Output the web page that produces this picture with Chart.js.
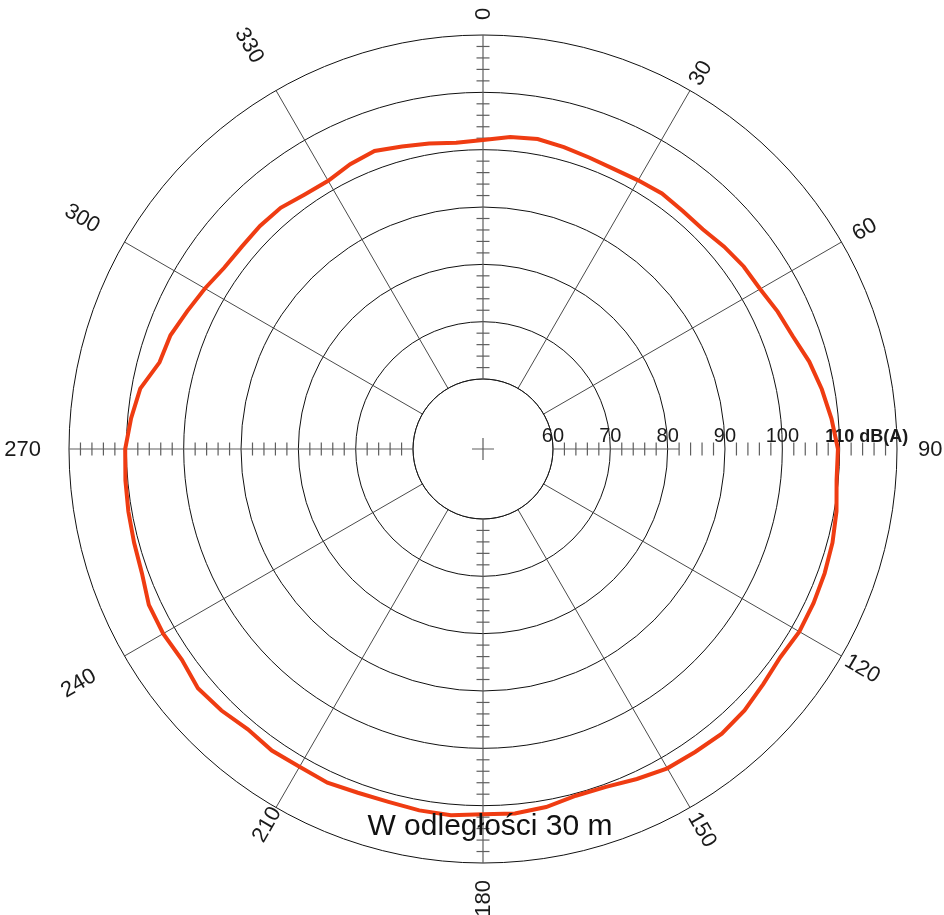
<!DOCTYPE html>
<html>
<head>
<meta charset="utf-8">
<script src="https://cdn.jsdelivr.net/npm/chart.js@4.4.1/dist/chart.umd.min.js"></script>
<style>
  html, body { margin: 0; padding: 0; background: #fff; }
  #wrap { width: 944px; height: 915px; }
</style>
</head>
<body>
<div id="wrap"><canvas id="polarChart" width="944" height="915"></canvas></div>
<script>
// kąty pomiaru (stopnie)
const angles = [
  0, 5, 10, 15, 20, 25, 30, 35, 40, 45, 50, 55,
  60, 65, 70, 75, 80, 85, 90, 95, 100, 105, 110, 115,
  120, 125, 130, 135, 140, 145, 150, 155, 160, 165, 170, 175,
  180, 185, 190, 195, 200, 205, 210, 215, 220, 225, 230, 235,
  240, 245, 250, 255, 260, 265, 270, 275, 280, 285, 290, 295,
  300, 305, 310, 315, 320, 325, 330, 335, 340, 345, 350, 355
];

// poziom hałasu dB(A)
const levels = [
  101.7, 102.4, 102.7, 102.3, 101.9, 101.7, 101.9, 102.2, 102.0, 102.0, 102.7, 103.3,
  103.6, 104.5, 105.3, 106.7, 107.8, 108.8, 109.7, 109.7, 110.4, 110.9, 111.2, 111.4,
  111.5, 111.1, 111.6, 112.3, 112.6, 112.3, 112.1, 111.3, 110.5, 110.4, 111.2, 111.6,
  111.5, 111.9, 111.8, 111.5, 111.6, 112.0, 111.8, 112.0, 111.6, 112.3, 112.7, 111.9,
  112.2, 112.1, 111.1, 110.8, 110.6, 110.4, 110.2, 109.4, 108.5, 106.2, 105.8, 104.7,
  103.8, 102.9, 102.7, 102.8, 102.7, 102.0, 101.8, 102.6, 103.1, 102.4, 101.9, 101.4
];

const ringValues = [60, 70, 80, 90, 100, 110, 120];
const dbTickLabels = ['60', '70', '80', '90', '100', '110'];
const angleTickLabels = ['0', '30', '60', '90', '120', '150', '180', '210', '240', '270', '300', '330'];
const unitLabel = 'dB(A)';
const chartTitle = 'W odległości 30 m';

const scaleMin = 47.8;
const scaleMax = 120;

// odstęp opisu kąta od zewnętrznego okręgu (px), jak w oryginale
const labelGap = [15, 8, 14, 21, 6, 7, 17, 1, 35, 28, 30, 34];

const polarDecor = {
  id: 'polarDecor',
  beforeDatasetsDraw(chart) {
    const { ctx } = chart;
    const s = chart.scales.r;
    const cx = s.xCenter, cy = s.yCenter;
    const rIn = s.getDistanceFromCenterForValue(60);
    const rOut = s.getDistanceFromCenterForValue(120);
    const step = angles.length / 4; // 0, 90, 180, 270

    ctx.save();
    // wnętrze najmniejszego okręgu bez linii kątowych
    ctx.beginPath();
    ctx.arc(cx, cy, rIn - 0.5, 0, Math.PI * 2);
    ctx.fillStyle = '#ffffff';
    ctx.fill();
    ctx.beginPath();
    ctx.arc(cx, cy, rIn, 0, Math.PI * 2);
    ctx.strokeStyle = '#1a1a1a';
    ctx.lineWidth = 1;
    ctx.stroke();

    // osie z podziałką co 2 dB
    ctx.strokeStyle = '#5e5e5e';
    ctx.lineWidth = 1.2;
    for (let k = 0; k < 4; k++) {
      const idx = k * step;
      const a0 = s.getPointPosition(idx, rIn);
      const lineEnd = k === 1 ? s.getDistanceFromCenterForValue(82) : rOut;
      const a1 = s.getPointPosition(idx, lineEnd);
      ctx.beginPath();
      ctx.moveTo(a0.x, a0.y);
      ctx.lineTo(a1.x, a1.y);
      ctx.stroke();
      const ang = a0.angle;
      const px = -Math.sin(ang), py = Math.cos(ang);
      for (let v = 62; v < 120; v += 2) {
        if (v % 10 === 0) continue;
        const p = s.getPointPosition(idx, s.getDistanceFromCenterForValue(v));
        ctx.beginPath();
        ctx.moveTo(p.x - px * 6.5, p.y - py * 6.5);
        ctx.lineTo(p.x + px * 6.5, p.y + py * 6.5);
        ctx.stroke();
      }
    }

    // krzyżyk w środku
    ctx.beginPath();
    ctx.moveTo(cx - 11, cy); ctx.lineTo(cx + 11, cy);
    ctx.moveTo(cx, cy - 11); ctx.lineTo(cx, cy + 11);
    ctx.stroke();

    // opisy dB wzdłuż osi 90
    ctx.fillStyle = '#1a1a1a';
    ctx.textBaseline = 'alphabetic';
    dbTickLabels.forEach((lbl, i) => {
      const p = s.getPointPosition(step, s.getDistanceFromCenterForValue(ringValues[i]));
      const last = i === dbTickLabels.length - 1;
      ctx.font = last ? "bold 18px 'Liberation Sans', Arial, sans-serif" : "20px 'Liberation Sans', Arial, sans-serif";
      ctx.textAlign = 'center';
      ctx.fillText(lbl, p.x, p.y - 7);
      if (last) {
        const w = ctx.measureText(lbl).width;
        ctx.textAlign = 'left';
        ctx.fillText(' ' + unitLabel, p.x + w / 2, p.y - 7);
      }
    });

    // opisy kątów, obrócone promieniście
    ctx.font = "22px 'Liberation Sans', Arial, sans-serif";
    ctx.textAlign = 'center';
    ctx.textBaseline = 'middle';
    angleTickLabels.forEach((lbl, i) => {
      const deg = Number(lbl);
      const w = ctx.measureText(lbl).width;
      const p = s.getPointPosition(angles.indexOf(deg), rOut + labelGap[i] + w / 2);
      let rot = ((deg - 90) % 180 + 180) % 180;
      if (rot >= 90) rot -= 180;
      ctx.save();
      ctx.translate(p.x, p.y);
      ctx.rotate(rot * Math.PI / 180);
      ctx.fillText(lbl, 0, 1);
      ctx.restore();
    });
    ctx.restore();
  },
  afterDatasetsDraw(chart) {
    const { ctx } = chart;
    const s = chart.scales.r;
    ctx.save();
    ctx.font = "30px 'Liberation Sans', Arial, sans-serif";
    ctx.fillStyle = '#111111';
    ctx.textAlign = 'center';
    ctx.textBaseline = 'alphabetic';
    ctx.fillText(chartTitle, s.xCenter + 7, s.yCenter + 386);
    ctx.restore();
  }
};

const ctx = document.getElementById('polarChart');
new Chart(ctx, {
  type: 'radar',
  data: {
    labels: angles,
    datasets: [{
      data: levels,
      borderColor: '#ef3c12',
      borderWidth: 4,
      pointRadius: 0,
      fill: false,
      tension: 0
    }]
  },
  options: {
    responsive: false,
    animation: false,
    layout: { padding: { left: 69, right: 47, top: 35, bottom: 52 } },
    plugins: {
      legend: { display: false },
      tooltip: { enabled: false }
    },
    scales: {
      r: {
        min: scaleMin,
        max: scaleMax,
        afterBuildTicks: (scale) => {
          // pierwszy tick (środek) nie jest rysowany jako okrąg
          scale.ticks = [scaleMin].concat(ringValues).map(v => ({ value: v }));
        },
        ticks: { display: false },
        grid: { circular: true, color: '#111111', lineWidth: 1 },
        angleLines: {
          lineWidth: 1,
          color: (c) => (angles[c.index] % 30 === 0 && angles[c.index] % 90 !== 0) ? '#4a4a4a' : 'rgba(0,0,0,0)'
        },
        pointLabels: { display: false }
      }
    }
  },
  plugins: [polarDecor]
});
</script>
</body>
</html>
